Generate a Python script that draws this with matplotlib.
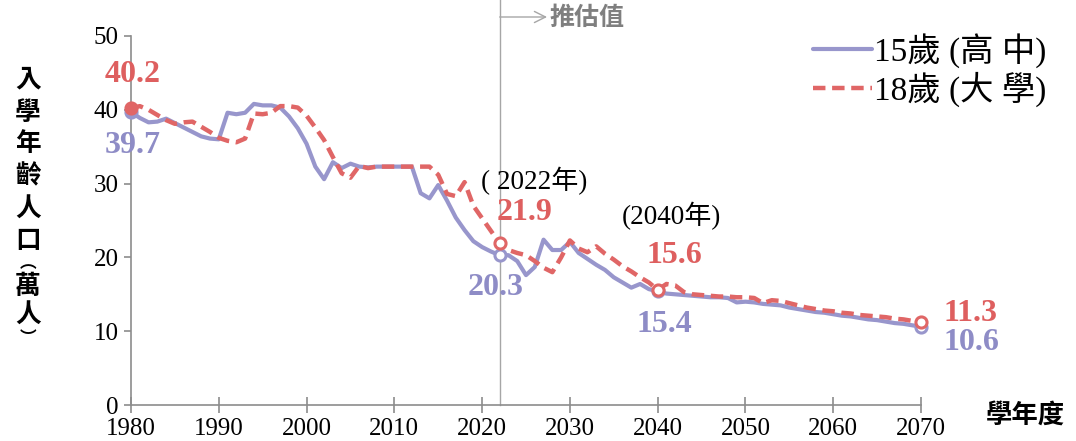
import matplotlib
matplotlib.use("Agg")
import matplotlib.pyplot as plt
import numpy as np

# ---------------- data ----------------
years = list(range(1980, 2071))
pop15 = [39.7, 38.9, 38.3, 38.4, 38.8, 38.2, 37.6, 37.0, 36.4, 36.1,
         36.0, 39.6, 39.4, 39.6, 40.8, 40.6, 40.6, 40.3, 39.1, 37.5,
         35.4, 32.3, 30.6, 32.9, 32.1, 32.7, 32.3, 32.2, 32.3, 32.3,
         32.3, 32.3, 32.3, 28.7, 28.0, 29.8, 27.7, 25.4, 23.7, 22.2,
         21.4, 20.8, 20.3, 20.3, 19.5, 17.6, 18.7, 22.4, 21.0, 21.0,
         22.1, 20.6, 19.8, 19.0, 18.3, 17.3, 16.6, 15.9, 16.4, 15.7,
         15.4, 15.1, 15.0, 14.9, 14.8, 14.7, 14.6, 14.6, 14.5, 13.9,
         14.0, 13.9, 13.7, 13.6, 13.5, 13.2, 13.0, 12.8, 12.6, 12.5,
         12.3, 12.1, 12.0, 11.8, 11.6, 11.5, 11.3, 11.1, 11.0, 10.8,
         10.6]
pop18 = [40.2, 40.5, 40.0, 39.3, 38.6, 38.1, 38.3, 38.4, 37.7, 37.0,
         36.2, 35.8, 35.6, 36.1, 39.5, 39.4, 39.6, 40.5, 40.5, 40.3,
         39.2, 37.6, 35.9, 33.6, 31.4, 30.8, 32.4, 32.1, 32.3, 32.3,
         32.3, 32.3, 32.3, 32.3, 32.3, 31.2, 28.6, 28.3, 30.2, 27.0,
         25.3, 23.6, 21.9, 21.0, 20.6, 20.3, 19.5, 18.6, 18.0, 20.0,
         22.3, 21.2, 20.7, 21.5, 20.5, 19.7, 18.8, 18.1, 17.3, 16.6,
         15.6, 16.4, 16.2, 15.3, 15.0, 14.9, 14.8, 14.7, 14.7, 14.6,
         14.6, 14.5, 13.8, 14.2, 14.1, 13.8, 13.5, 13.2, 13.0, 12.8,
         12.7, 12.5, 12.4, 12.2, 12.1, 12.0, 11.9, 11.7, 11.6, 11.4,
         11.3]
series_names = ["15歲 (高 中)", "18歲 (大 學)"]
highlight_years = [1980, 2022, 2040, 2070]
note_years = [2022, 2040]
xticks = list(range(1980, 2071, 10))
yticks = list(range(0, 51, 10))
ylabel_chars = ["入", "學", "年", "齡", "人", "口", "︵", "萬", "人", "︶"]
xlabel_text = "學年度"
proj_text = "推估值"
proj_year = 2022

# ---------------- style ----------------
SERIF = ["Liberation Serif", "Noto Sans CJK TC"]
CJK = ["Noto Sans CJK TC", "DejaVu Sans"]
BLUE = "#9896CC"
BLUE_T = "#8E8CC6"
RED = "#E06666"
RED_T = "#DE5F5F"
GRAY = "#8C8C8C"

plt.rcParams["font.family"] = SERIF

fig = plt.figure(figsize=(10.76, 4.41), dpi=100)
W, H = 1076, 441
ax = fig.add_axes([131 / W, 1 - 405 / H, 790 / W, 369 / H])

ax.plot(years, pop15, color=BLUE, lw=3.0, solid_capstyle="round",
        solid_joinstyle="round", label=series_names[0], zorder=3)
ax.plot(years, pop18, color=RED, lw=3.2, linestyle=(0, (2.8, 1.5)),
        dash_capstyle="butt", label=series_names[1], zorder=4)

# markers at highlighted years
idx = {y: i for i, y in enumerate(years)}
for y in highlight_years:
    filled = (y == highlight_years[0])
    ax.plot(y, pop15[idx[y]], "o", ms=8, mew=2.2, mec=BLUE,
            mfc=BLUE if filled else "white", zorder=5, clip_on=False)
    ax.plot(y, pop18[idx[y]], "o", ms=8, mew=2.2, mec=RED,
            mfc=RED if filled else "white", zorder=6, clip_on=False)

# value labels
off18 = {1980: (1.5, 24), 2022: (18, 22), 2040: (12, 25), 2070: (36, 6)}
off15 = {1980: (1.5, -24), 2022: (-3, -23), 2040: (5, -24), 2070: (36, -11)}
for y in highlight_years:
    v18 = pop18[idx[y]]
    v15 = pop15[idx[y]]
    ax.annotate(f"{v18:.1f}", xy=(y, v18), xytext=off18[y],
                textcoords="offset points", ha="center", va="center",
                fontsize=23, fontweight="bold", color=RED_T, zorder=7,
                annotation_clip=False)
    ax.annotate(f"{v15:.1f}", xy=(y, v15), xytext=off15[y],
                textcoords="offset points", ha="center", va="center",
                fontsize=23, fontweight="bold", color=BLUE_T, zorder=7,
                annotation_clip=False)

note_off = {2022: (25, 45), 2040: (10, 53)}
note_fmt = {2022: "( {}年)", 2040: "({}年)"}
for y in note_years:
    ax.annotate(note_fmt[y].format(y), xy=(y, pop18[idx[y]]),
                xytext=note_off[y], textcoords="offset points",
                ha="center", va="center", fontsize=19.5, color="black",
                annotation_clip=False)

# projection line
ytop = 50 + 36 / (369 / 50)
ax.plot([proj_year, proj_year], [0, ytop], color="#A6A6A6", lw=1.0,
        clip_on=False, zorder=2)
yarrow = 50 + (36 - 17) / (369 / 50)
ax.annotate("", xy=(proj_year + 5.4, yarrow), xytext=(proj_year, yarrow),
            arrowprops=dict(arrowstyle="->", color="#A6A6A6", lw=1.0,
                            mutation_scale=20, shrinkA=0, shrinkB=0),
            annotation_clip=False)
ax.text(proj_year + 5.7, yarrow - 0.15, proj_text, fontsize=18,
        fontweight="bold", color="#7F7F7F", ha="left", va="center",
        family=CJK)

# axes styling
ax.set_xlim(1980, 2070)
ax.set_ylim(0, 50)
ax.set_xticks(xticks)
ax.set_yticks(yticks)
for s in ["top", "right"]:
    ax.spines[s].set_visible(False)
for s in ["left", "bottom"]:
    ax.spines[s].set_color(GRAY)
    ax.spines[s].set_linewidth(1.2)
ax.tick_params(axis="x", direction="inout", length=11, width=1.2,
               color=GRAY, labelsize=18, pad=4)
ax.tick_params(axis="y", direction="out", length=5, width=1.2,
               color=GRAY, labelsize=18, pad=4)

# y label stacked characters
ypos = [79, 112, 144, 176, 209, 240, 263, 287, 315, 338]
ysize = [18.5, 18.5, 18.5, 18.5, 18.5, 18.5, 12, 18.5, 18.5, 12]
for ch, yp, fs in zip(ylabel_chars, ypos, ysize):
    fig.text(28 / W, 1 - yp / H, ch, fontsize=fs, fontweight="bold",
             ha="center", va="center", family=CJK)

fig.text(1025 / W, 1 - 415 / H, xlabel_text, fontsize=19, fontweight="bold",
         ha="center", va="center", family=CJK)

# legend
leg = ax.legend(loc="upper right", bbox_to_anchor=(1060 / W, 1 - 20 / H),
                bbox_transform=fig.transFigure, frameon=False, fontsize=24,
                handlelength=1.75, handletextpad=0.08, labelspacing=0.1,
                borderaxespad=0)

fig.savefig("out.png", dpi=100)
